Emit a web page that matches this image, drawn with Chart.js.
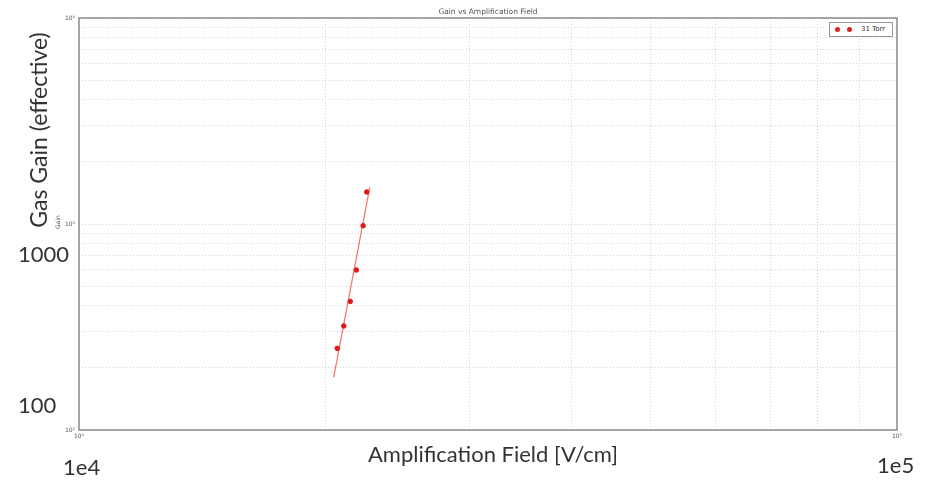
<!DOCTYPE html>
<html>
<head>
<meta charset="utf-8">
<script src="https://cdn.jsdelivr.net/npm/chart.js@4/dist/chart.umd.min.js"></script>
<style>
  html, body { margin:0; padding:0; background:#fff; }
  #wrap { position:relative; width:928px; height:484px; font-family:Lato, "Open Sans", sans-serif; }
  #chart { position:absolute; left:0; top:0; }
  .big { position:absolute; color:#333; font-size:22px; white-space:nowrap; }
  .small { position:absolute; color:#555; font-family:"DejaVu Sans", sans-serif; font-size:7px; white-space:nowrap; }
  #legend { position:absolute; left:829px; top:22px; width:62px; height:13px; border:1px solid #999; background:#fff;
            font-family:"DejaVu Sans", sans-serif; font-size:7px; color:#333; line-height:13px; }
  #legend .dot { position:absolute; top:4px; width:5px; height:5px; border-radius:50%; background:#e02020; }
</style>
</head>
<body>
<div id="wrap">
  <canvas id="chart" width="928" height="484"></canvas>
  <div class="small" style="left:488px;top:7px;transform:translateX(-50%);font-size:7.5px;">Gain vs Amplification Field</div>
  <div class="small" style="left:57px;top:222px;transform:translate(-50%,-50%) rotate(-90deg);font-size:6px;">Gain</div>
  <div class="big" style="left:38px;top:130px;transform:translate(-50%,-50%) rotate(-90deg);font-size:23px;">Gas Gain (effective)</div>
  <div class="big" style="left:18px;top:240px;">1000</div>
  <div class="big" style="left:18px;top:391px;">100</div>
  <div class="big" style="left:63px;top:453px;">1e4</div>
  <div class="big" style="left:877px;top:451px;">1e5</div>
  <div class="big" style="left:493px;top:440px;transform:translateX(-50%);">Amplification Field [V/cm]</div>
  <div id="legend">
    <span class="dot" style="left:5px"></span><span class="dot" style="left:17px"></span>
    <span style="position:absolute;left:31px;">31 Torr</span>
  </div>
</div>
<script>
// measured points (31 Torr)
const fieldValues = [20690, 21070, 21460, 21830, 22250, 22480];
const gainValues  = [249, 320, 421, 598, 981, 1430];
// fit line end points
const fitField = [20480, 22670];
const fitGain  = [180, 1507];

const xTicks = [10000, 20000, 30000, 40000, 50000, 60000, 70000, 80000, 90000, 100000];
const yTicks = [100, 200, 300, 400, 500, 600, 700, 800, 900, 1000, 2000, 3000, 4000, 5000, 6000, 7000, 8000, 9000, 10000];
const decadeLabels = {10000:'10\u2074', 100000:'10\u2075', 100:'10\u00b2', 1000:'10\u00b3'};
const yDecadeLabels = {100:'10\u00b2', 1000:'10\u00b3', 10000:'10\u2074'};

const points = fieldValues.map((x,i)=>({x, y:gainValues[i]}));
const fit = fitField.map((x,i)=>({x, y:fitGain[i]}));

// frame around the plot area
const framePlugin = {
  id:'frame',
  afterDraw(chart){
    const a = chart.chartArea, c = chart.ctx;
    c.save();
    c.strokeStyle = '#8a8a8a';
    c.lineWidth = 1.5;
    c.strokeRect(a.left, a.top, a.right-a.left, a.bottom-a.top);
    c.restore();
  }
};

const gridOpts = {color:'#d4d4d4', lineWidth:1, drawTicks:false};

new Chart(document.getElementById('chart'), {
  type:'scatter',
  data:{datasets:[
    {label:'fit', data:fit, showLine:true, borderColor:'rgba(240,90,80,0.85)', borderWidth:1.2, pointRadius:0, order:2},
    {label:'31 Torr', data:points, backgroundColor:'#e01818', borderColor:'#e01818', pointRadius:2.3, order:1}
  ]},
  options:{
    responsive:false, animation:false,
    layout:{padding:{top:18, right:31, left:0, bottom:0}},
    plugins:{legend:{display:false}, title:{display:false}, tooltip:{enabled:false}},
    scales:{
      x:{type:'logarithmic', min:10000, max:100000,
        afterBuildTicks(s){ s.ticks = xTicks.map(v=>({value:v})); },
        afterFit(s){ s.height = 54; },
        grid:gridOpts, border:{display:false, dash:[1,2]},
        ticks:{autoSkip:false, maxRotation:0, padding:3, color:'#555', font:{family:'DejaVu Sans', size:6},
          callback(v){ return decadeLabels[v] && (v===10000||v===100000) ? decadeLabels[v] : ''; }}
      },
      y:{type:'logarithmic', min:100, max:10000,
        afterBuildTicks(s){ s.ticks = yTicks.map(v=>({value:v})); },
        afterFit(s){ s.width = 79; },
        grid:gridOpts, border:{display:false, dash:[1,2]},
        ticks:{autoSkip:false, padding:4, color:'#555', font:{family:'DejaVu Sans', size:6},
          callback(v){ return yDecadeLabels[v] || ''; }}
      }
    }
  },
  plugins:[framePlugin]
});
</script>
</body>
</html>
